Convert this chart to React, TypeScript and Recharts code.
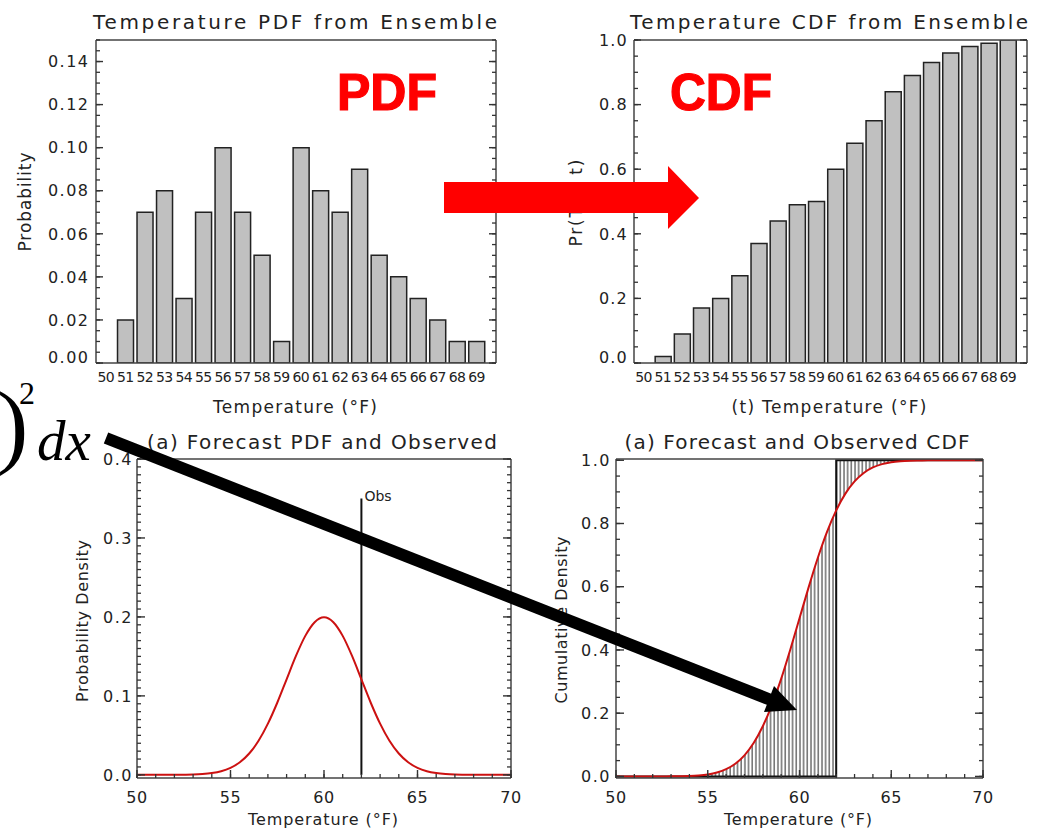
import React from "react";
import { ComposedChart, Bar, Line, Area, XAxis, YAxis } from "recharts";

// ensemble histogram, one bar per degree (top row)
const ENSEMBLE_TEMPS = [50, 51, 52, 53, 54, 55, 56, 57, 58, 59, 60, 61, 62, 63, 64, 65, 66, 67, 68, 69];
const ENSEMBLE_PDF = [0, 0.02, 0.07, 0.08, 0.03, 0.07, 0.1, 0.07, 0.05, 0.01, 0.1, 0.08, 0.07, 0.09, 0.05, 0.04, 0.03, 0.02, 0.01, 0.01];
const ENSEMBLE_CDF = [0, 0.02, 0.09, 0.17, 0.2, 0.27, 0.37, 0.44, 0.49, 0.5, 0.6, 0.68, 0.75, 0.84, 0.89, 0.93, 0.96, 0.98, 0.99, 1.0];

// forecast curves read every half degree (bottom row)
const FORECAST_TEMPS = [
  50, 50.5, 51, 51.5, 52, 52.5, 53, 53.5, 54, 54.5, 55, 55.5, 56, 56.5, 57, 57.5, 58, 58.5, 59, 59.5, 60,
  60.5, 61, 61.5, 62, 62.5, 63, 63.5, 64, 64.5, 65, 65.5, 66, 66.5, 67, 67.5, 68, 68.5, 69, 69.5, 70,
];
const FORECAST_PDF = [
  0, 0, 0, 0, 0.0001, 0.0002, 0.0004, 0.001, 0.0022, 0.0045, 0.0088, 0.0159, 0.027, 0.0431, 0.0648, 0.0913, 0.121, 0.1506, 0.176, 0.1933, 0.1995,
  0.1933, 0.176, 0.1506, 0.121, 0.0913, 0.0648, 0.0431, 0.027, 0.0159, 0.0088, 0.0045, 0.0022, 0.001, 0.0004, 0.0002, 0.0001, 0, 0, 0, 0,
];
const FORECAST_CDF = [
  0, 0, 0, 0, 0, 0.0001, 0.0002, 0.0006, 0.0013, 0.003, 0.0062, 0.0122, 0.0228, 0.0401, 0.0668, 0.1056, 0.1587, 0.2266, 0.3085, 0.4013, 0.5,
  0.5987, 0.6915, 0.7734, 0.8413, 0.8944, 0.9332, 0.9599, 0.9772, 0.9878, 0.9938, 0.997, 0.9987, 0.9994, 0.9998, 0.9999, 1, 1, 1, 1, 1,
];

const OBS_TEMP = 62;
const OBS_LINE_TOP = 0.35;

const PDF_Y_TICKS = [0, 0.02, 0.04, 0.06, 0.08, 0.1, 0.12, 0.14];
const CDF_Y_TICKS = [0, 0.2, 0.4, 0.6, 0.8, 1];
const DENSITY_Y_TICKS = [0, 0.1, 0.2, 0.3, 0.4];
const TEMP_TICKS = [50, 55, 60, 65, 70];

const AXIS = "#444";
const TICK = "#333";
const INK = "#222";
const RED = "#cc1111";
const FONT = "'DejaVu Sans', sans-serif";
const MINOR = 4; // inward minor tick length, drawn by recharts itself

const steps = (from: number, to: number, step: number) => {
  const out: number[] = [];
  for (let v = from; v <= to + 1e-9; v += step) out.push(Math.round(v * 1e4) / 1e4);
  return out;
};

const pdfRows = ENSEMBLE_TEMPS.map((t, i) => ({ t, p: ENSEMBLE_PDF[i] }));
const cdfRows = ENSEMBLE_TEMPS.map((t, i) => ({ t, p: ENSEMBLE_CDF[i] }));
const forecastPdf = FORECAST_TEMPS.map((t, i) => ({ t, v: FORECAST_PDF[i] }));
const forecastCdf = FORECAST_TEMPS.map((t, i) => ({ t, v: FORECAST_CDF[i] }));
const obsMark = [
  { t: OBS_TEMP, v: 0 },
  { t: OBS_TEMP, v: OBS_LINE_TOP },
];
const obsCdf = [
  { t: FORECAST_TEMPS[0], v: 0 },
  { t: OBS_TEMP, v: 1 },
  { t: FORECAST_TEMPS[FORECAST_TEMPS.length - 1], v: 1 },
];
// area between forecast cdf and the observed step
const hatchRows: { t: number; band: number[] }[] = [];
FORECAST_TEMPS.forEach((t, i) => {
  const c = FORECAST_CDF[i];
  if (t <= OBS_TEMP) hatchRows.push({ t, band: [0, c] });
  if (t >= OBS_TEMP) hatchRows.push({ t, band: [c, 1] });
});

type Side = "left" | "right" | "top" | "bottom";
interface TickOpts {
  side: Side;
  majors: number[];
  majorLen?: number;
  format?: (v: number) => string;
  gap?: number;
  fontSize?: number;
  spacing?: number;
  zeroLift?: number;
}

// x/y arrive on the axis line (tickMargin cancels the inward tickSize)
const makeTick = (o: TickOpts) => (props: any) => {
  const { x, y, payload } = props;
  const v = payload.value as number;
  const major = o.majors.some((m) => Math.abs(m - v) < 1e-6);
  const len = major ? o.majorLen || 0 : 0;
  let d = "";
  if (len > 0) {
    if (o.side === "left") d = `M${x},${y}h${len}`;
    else if (o.side === "right") d = `M${x},${y}h${-len}`;
    else if (o.side === "top") d = `M${x},${y}v${len}`;
    else d = `M${x},${y}v${-len}`;
  }
  let label = null;
  if (major && o.format) {
    const gap = o.gap ?? 6;
    const txt = { fill: INK, stroke: "none", fontSize: o.fontSize ?? 16, fontFamily: FONT, letterSpacing: o.spacing ?? 0 };
    if (o.side === "left") {
      const ly = v === 0 && o.zeroLift ? y - o.zeroLift : y;
      label = (
        <text x={x - gap} y={ly} dy="0.36em" textAnchor="end" {...txt}>
          {o.format(v)}
        </text>
      );
    } else if (o.side === "bottom") {
      label = (
        <text x={x} y={y + gap} textAnchor="middle" {...txt}>
          {o.format(v)}
        </text>
      );
    }
  }
  return (
    <g>
      {d ? <path d={d} stroke={TICK} strokeWidth={1.4} fill="none" /> : null}
      {label}
    </g>
  );
};

const Box = ({ left, top, children }: { left: number; top: number; children: React.ReactNode }) => (
  <div style={{ position: "absolute", left, top }}>{children}</div>
);

const axisLine = { stroke: AXIS, strokeWidth: 1.5 };
const tickLine = { stroke: TICK, strokeWidth: 1.3 };
const inward = { tickSize: -MINOR, tickMargin: MINOR, tickLine, interval: 0 as const };

function EnsembleChart({
  rows,
  width,
  yWidth,
  right,
  domain,
  majors,
  minor,
  digits,
  labelGap,
  spacing,
}: {
  rows: { t: number; p: number }[];
  width: number;
  yWidth: number;
  right: number;
  domain: [number, number];
  majors: number[];
  minor: number;
  digits: number;
  labelGap: number;
  spacing: number;
}) {
  const allY = steps(domain[0], domain[1], minor);
  return (
    <ComposedChart width={width} height={420} data={rows} margin={{ top: 39, right: right - 1, bottom: 56, left: 0 }}>
      <XAxis
        dataKey="t"
        type="number"
        domain={[49.5, 70]}
        allowDataOverflow
        ticks={ENSEMBLE_TEMPS}
        interval={0}
        height={1}
        tickSize={0}
        tickMargin={0}
        tickLine={false}
        axisLine={axisLine}
        tick={makeTick({ side: "bottom", majors: ENSEMBLE_TEMPS, format: (v) => String(v), gap: 19, fontSize: 14, spacing: -0.6 })}
      />
      <XAxis xAxisId="top" orientation="top" type="number" domain={[49.5, 70]} allowDataOverflow height={1} tick={false} tickLine={false} axisLine={axisLine} />
      <YAxis
        type="number"
        domain={domain}
        allowDataOverflow
        ticks={allY}
        width={yWidth}
        {...inward}
        axisLine={axisLine}
        tick={makeTick({ side: "left", majors, majorLen: 7, format: (v) => v.toFixed(digits), gap: labelGap, fontSize: 16, spacing, zeroLift: 6 })}
      />
      <YAxis
        yAxisId="right"
        orientation="right"
        type="number"
        domain={domain}
        allowDataOverflow
        ticks={allY}
        width={1}
        {...inward}
        axisLine={axisLine}
        tick={makeTick({ side: "right", majors, majorLen: 7 })}
      />
      <Bar dataKey="p" barSize={16} fill="#c0c0c0" stroke={INK} strokeWidth={1.5} isAnimationActive={false} />
    </ComposedChart>
  );
}

function ForecastChart({
  width,
  yWidth,
  right,
  domain,
  majors,
  minor,
  labelGap,
  kind,
}: {
  width: number;
  yWidth: number;
  right: number;
  domain: [number, number];
  majors: number[];
  minor: number;
  labelGap: number;
  kind: "pdf" | "cdf";
}) {
  const allY = steps(0, majors[majors.length - 1], minor);
  const allX = steps(50, 70, 1);
  return (
    <ComposedChart width={width} height={409} margin={{ top: 38, right: right - 1, bottom: 50, left: 0 }}>
      <XAxis
        dataKey="t"
        type="number"
        domain={[50, 70]}
        allowDataOverflow
        ticks={allX}
        height={1}
        {...inward}
        axisLine={axisLine}
        tick={makeTick({ side: "bottom", majors: TEMP_TICKS, majorLen: 8, format: (v) => String(v), gap: 25, fontSize: 16, spacing: 0.5 })}
      />
      <XAxis
        xAxisId="top"
        orientation="top"
        type="number"
        domain={[50, 70]}
        allowDataOverflow
        ticks={allX}
        height={1}
        {...inward}
        axisLine={axisLine}
        tick={makeTick({ side: "top", majors: TEMP_TICKS, majorLen: 8 })}
      />
      <YAxis
        type="number"
        domain={domain}
        allowDataOverflow
        ticks={allY}
        width={yWidth}
        {...inward}
        axisLine={axisLine}
        tick={makeTick({ side: "left", majors, majorLen: 8, format: (v) => v.toFixed(1), gap: labelGap, fontSize: 16, spacing: 1.5 })}
      />
      <YAxis
        yAxisId="right"
        orientation="right"
        type="number"
        domain={domain}
        allowDataOverflow
        ticks={allY}
        width={1}
        {...inward}
        axisLine={axisLine}
        tick={makeTick({ side: "right", majors, majorLen: 8 })}
      />
      {kind === "pdf" ? (
        <>
          <Line
            data={obsMark}
            dataKey="v"
            type="linear"
            stroke="#111"
            strokeWidth={2}
            dot={false}
            isAnimationActive={false}
            label={(p: any) =>
              p.index === 1 ? (
                <text key="obs" x={p.x + 3} y={p.y + 3} fontSize={14} fontFamily={FONT} fill={INK}>
                  Obs
                </text>
              ) : (
                <g key={`n${p.index}`} />
              )
            }
          />
          <Line data={forecastPdf} dataKey="v" type="monotone" stroke={RED} strokeWidth={2} dot={false} isAnimationActive={false} />
        </>
      ) : (
        <>
          <Area data={hatchRows} dataKey="band" type="linear" stroke="none" fill="url(#vhatch)" fillOpacity={1} isAnimationActive={false} />
          <Line data={obsCdf} dataKey="v" type="stepAfter" stroke="#111" strokeWidth={2} dot={false} isAnimationActive={false} />
          <Line data={forecastCdf} dataKey="v" type="monotone" stroke={RED} strokeWidth={2} dot={false} isAnimationActive={false} />
        </>
      )}
    </ComposedChart>
  );
}

const Txt = ({ x, y, len, size, rotate, children }: { x: number; y: number; len: number; size: number; rotate?: boolean; children: React.ReactNode }) => (
  <text
    transform={`translate(${x},${y})${rotate ? " rotate(-90)" : ""}`}
    textAnchor="middle"
    textLength={len}
    lengthAdjust="spacing"
    fontSize={size}
    fontFamily={FONT}
    fill={INK}
  >
    {children}
  </text>
);

function Overlay() {
  return (
    <svg width={1052} height={829} style={{ position: "absolute", left: 0, top: 0, pointerEvents: "none", overflow: "visible" }}>
      <Txt x={295} y={29} len={404} size={20}>Temperature PDF from Ensemble</Txt>
      <Txt x={829} y={29} len={398} size={20}>Temperature CDF from Ensemble</Txt>
      <Txt x={322} y={449} len={350} size={20}>(a) Forecast PDF and Observed</Txt>
      <Txt x={797} y={449} len={345} size={20}>(a) Forecast and Observed CDF</Txt>

      <Txt x={295} y={413} len={164} size={17}>Temperature (°F)</Txt>
      <Txt x={829} y={413} len={195} size={17}>(t) Temperature (°F)</Txt>
      <Txt x={323} y={825} len={150} size={16}>Temperature (°F)</Txt>
      <Txt x={798} y={825} len={148} size={16}>Temperature (°F)</Txt>

      <Txt x={31} y={202} len={99} size={17} rotate>Probability</Txt>
      <Txt x={582} y={203} len={87} size={17} rotate>Pr(T ≤ t)</Txt>
      <Txt x={88} y={621} len={162} size={16} rotate>Probability Density</Txt>
      <Txt x={567} y={620} len={167} size={16} rotate>Cumulative Density</Txt>

      <text x={-3} y={456} fontSize={94} fontFamily="'Liberation Serif', serif" fill="#000">)</text>
      <text x={19} y={404} fontSize={32} fontFamily="'Liberation Serif', serif" fill="#000">2</text>
      <text x={37} y={460} fontSize={57} fontStyle="italic" fontFamily="'Liberation Serif', serif" fill="#000">dx</text>

      <text x={337} y={110} textLength={100} lengthAdjust="spacingAndGlyphs" fontSize={51} fontWeight={900} fontFamily="'Liberation Sans', Arial, sans-serif" fill="#ff0000" stroke="#ff0000" strokeWidth={1.2}>PDF</text>
      <text x={670} y={110} textLength={102} lengthAdjust="spacingAndGlyphs" fontSize={51} fontWeight={900} fontFamily="'Liberation Sans', Arial, sans-serif" fill="#ff0000" stroke="#ff0000" strokeWidth={1.2}>CDF</text>

      <polygon points="444,182 668,182 668,166 699,198 668,229 668,213 444,213" fill="#ff0000" />

      <line x1={106} y1={438} x2={771} y2={700} stroke="#000" strokeWidth={12} />
      <polygon points="797,710 774,686 764,712" fill="#000" />
    </svg>
  );
}

export default function App() {
  return (
    <div style={{ position: "absolute", left: 0, top: 0, width: 1052, height: 829, background: "#fff", fontFamily: FONT }}>
      <svg width={0} height={0} style={{ position: "absolute" }}>
        <defs>
          <pattern id="vhatch" patternUnits="userSpaceOnUse" width={3.67} height={12}>
            <line x1={1} y1={0} x2={1} y2={12} stroke="#222" strokeWidth={1} />
          </pattern>
        </defs>
      </svg>
      <Box left={0} top={0}>
        <EnsembleChart rows={pdfRows} width={520} yWidth={96} right={24} domain={[0, 0.15]} majors={PDF_Y_TICKS} minor={0.005} digits={2} labelGap={6.5} spacing={1.5} />
      </Box>
      <Box left={520} top={0}>
        <EnsembleChart rows={cdfRows} width={532} yWidth={114} right={25} domain={[0, 1]} majors={CDF_Y_TICKS} minor={0.05} digits={1} labelGap={6} spacing={1.2} />
      </Box>
      <Box left={0} top={420}>
        <ForecastChart width={540} yWidth={137} right={29} domain={[-0.004, 0.4]} majors={DENSITY_Y_TICKS} minor={0.01} labelGap={4} kind="pdf" />
      </Box>
      <Box left={520} top={420}>
        <ForecastChart width={532} yWidth={96} right={69} domain={[-0.005, 1.004]} majors={CDF_Y_TICKS} minor={0.05} labelGap={5} kind="cdf" />
      </Box>
      <Overlay />
    </div>
  );
}
